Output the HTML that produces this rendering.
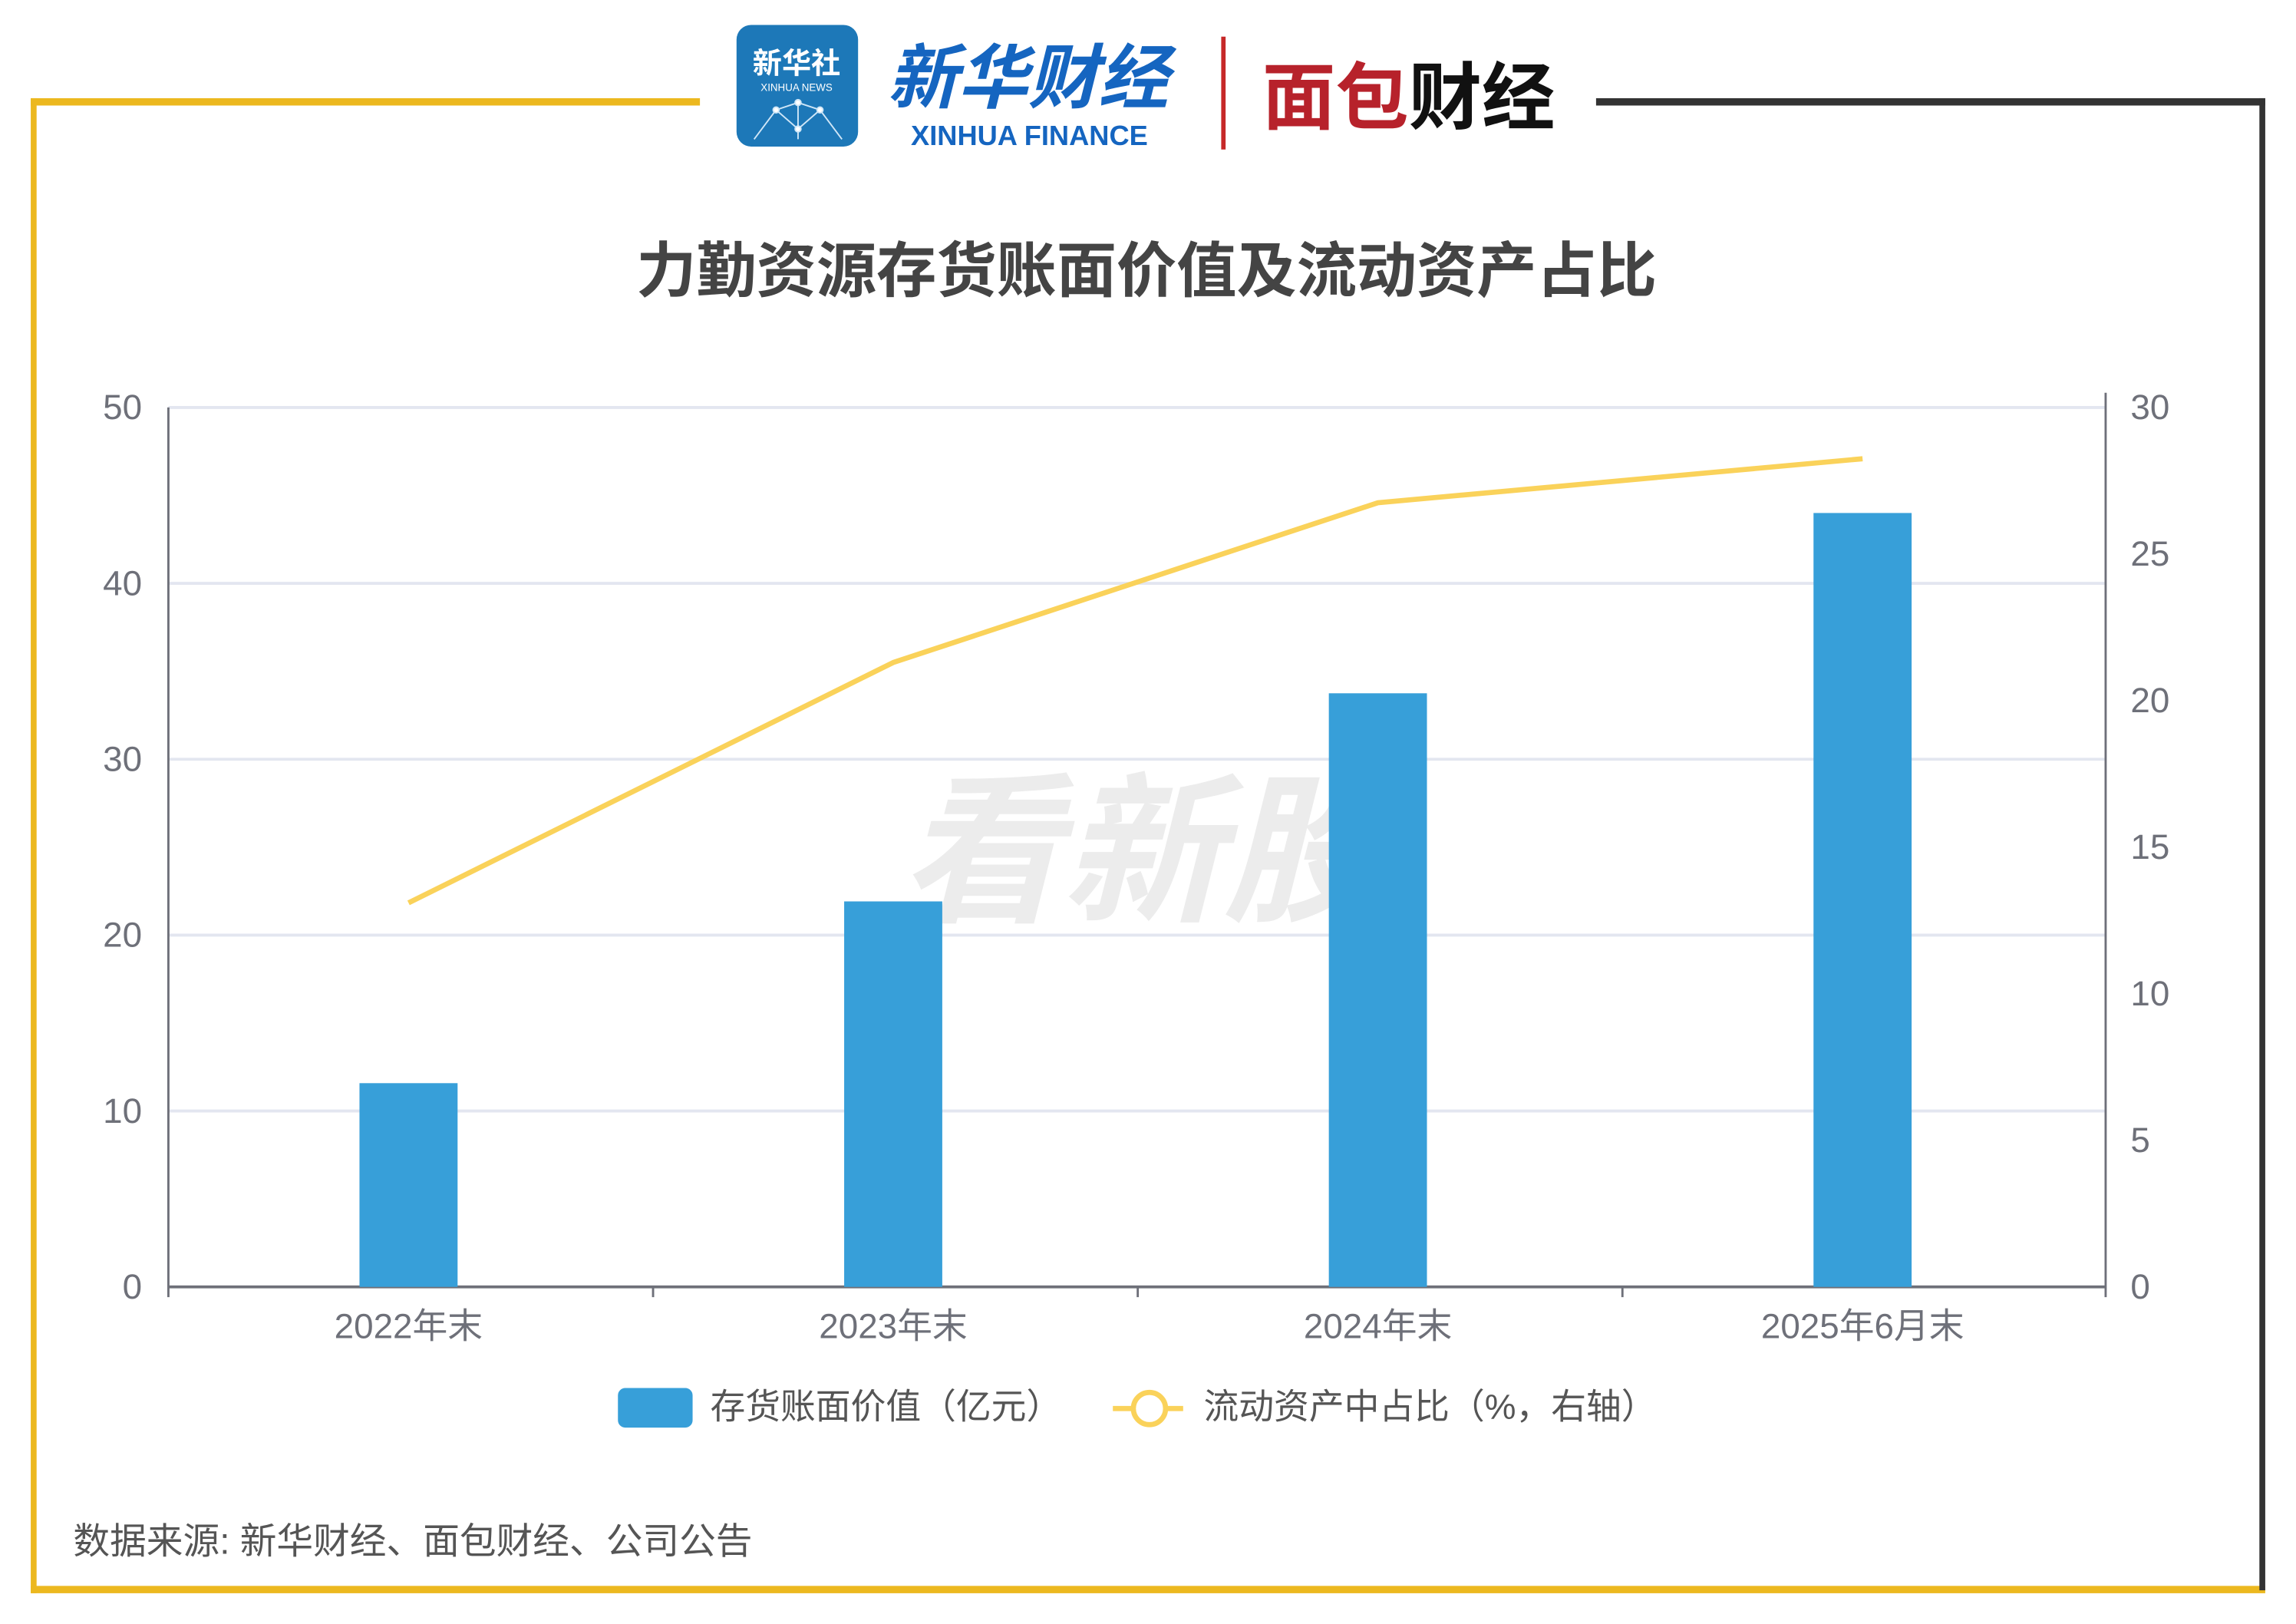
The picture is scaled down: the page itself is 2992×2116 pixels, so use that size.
<!DOCTYPE html>
<html><head><meta charset="utf-8"><style>
html,body{margin:0;padding:0;background:#fff;}
svg{display:block;}
text{font-family:"Liberation Sans","Noto Sans CJK SC",sans-serif;}
</style></head><body>
<svg width="2992" height="2116" viewBox="0 0 1568 1108" preserveAspectRatio="none" xmlns="http://www.w3.org/2000/svg">
<rect width="1568" height="1108" fill="#fff"/>
<rect x="21" y="67" width="457" height="5" fill="#ecb81f"/>
<rect x="21" y="67" width="4" height="1020" fill="#ecb81f"/>
<rect x="21" y="1082" width="1526" height="5" fill="#ecb81f"/>
<rect x="1090" y="67" width="457" height="5" fill="#333"/>
<rect x="1543" y="67" width="4" height="1018" fill="#333"/>
<rect x="503" y="17" width="83" height="83" rx="10" fill="#1d78b8"/>
<text x="544" y="50" font-size="20" fill="#fff" text-anchor="middle" font-weight="bold">新华社</text>
<text x="544" y="62" font-size="7" fill="#fff" text-anchor="middle">XINHUA NEWS</text>
<g stroke="#cfe6f7" stroke-width="1" fill="#fff">
<path d="M515 95 L530 75 L545 70 L560 75 L575 95 M530 75 L545 88 L560 75 M545 70 L545 95" fill="none"/>
<circle cx="530" cy="75" r="2"/><circle cx="545" cy="70" r="2"/><circle cx="560" cy="75" r="2"/><circle cx="545" cy="88" r="2"/>
</g>
<text x="702" y="70" font-size="48" fill="#1565c0" text-anchor="middle" font-weight="bold" font-style="italic">新华财经</text>
<text x="703" y="99" font-size="19" fill="#1565c0" text-anchor="middle" font-family="Liberation Serif" font-weight="bold">XINHUA FINANCE</text>
<rect x="834" y="25" width="3" height="77" fill="#c62828"/>
<text x="912" y="84" font-size="50" fill="#b7222b" text-anchor="middle" font-weight="bold">面包</text>
<text x="1012" y="84" font-size="50" fill="#111" text-anchor="middle" font-weight="bold">财经</text>
<text x="783" y="199" font-size="41" fill="#444" text-anchor="middle" font-weight="bold">力勤资源存货账面价值及流动资产占比</text>
<text x="780" y="620" font-size="110" fill="#e8e8e8" text-anchor="middle" font-weight="bold" font-style="italic" opacity="0.8">看新股</text>
<g stroke="#e3e6f0" stroke-width="2">
<line x1="115" y1="278" x2="1438" y2="278"/><line x1="115" y1="398" x2="1438" y2="398"/>
<line x1="115" y1="518" x2="1438" y2="518"/><line x1="115" y1="638" x2="1438" y2="638"/>
<line x1="115" y1="758" x2="1438" y2="758"/>
</g>
<g stroke="#6e7079" stroke-width="1.5">
<line x1="115" y1="278" x2="115" y2="885"/>
<line x1="1438" y1="268" x2="1438" y2="885"/>
<line x1="115" y1="878" x2="1438" y2="878" stroke-width="2"/>
<line x1="446" y1="878" x2="446" y2="885"/><line x1="777" y1="878" x2="777" y2="885"/><line x1="1108" y1="878" x2="1108" y2="885"/>
</g>
<g fill="#379fd9">
<rect x="245.5" y="739" width="67" height="139"/>
<rect x="576.5" y="615" width="67" height="263"/>
<rect x="907.5" y="473" width="67" height="405"/>
<rect x="1238.5" y="350" width="67" height="528"/>
</g>
<polyline points="279,616 610,452 941,343 1272,313" fill="none" stroke="#fad25a" stroke-width="3.5" stroke-linejoin="round"/>
<g font-size="24" fill="#6e7079">
<g text-anchor="end">
<text x="97" y="286">50</text><text x="97" y="406">40</text><text x="97" y="526">30</text>
<text x="97" y="646">20</text><text x="97" y="766">10</text><text x="97" y="886">0</text>
</g>
<g text-anchor="start">
<text x="1455" y="286">30</text><text x="1455" y="386">25</text><text x="1455" y="486">20</text>
<text x="1455" y="586">15</text><text x="1455" y="686">10</text><text x="1455" y="786">5</text><text x="1455" y="886">0</text>
</g>
<g text-anchor="middle">
<text x="279" y="913">2022年末</text><text x="610" y="913">2023年末</text>
<text x="941" y="913">2024年末</text><text x="1272" y="913">2025年6月末</text>
</g>
</g>
<rect x="422" y="947" width="51" height="27" rx="5" fill="#379fd9"/>
<text x="485" y="968" font-size="24" fill="#555">存货账面价值（亿元）</text>
<line x1="760" y1="961" x2="808" y2="961" stroke="#fad25a" stroke-width="3.5"/>
<circle cx="785" cy="961" r="11" fill="#fff" stroke="#fad25a" stroke-width="3.5"/>
<text x="822" y="968" font-size="24" fill="#555">流动资产中占比（%，右轴）</text>
<text x="50" y="1060" font-size="25" fill="#555">数据来源: 新华财经、面包财经、公司公告</text>
</svg>
</body></html>
